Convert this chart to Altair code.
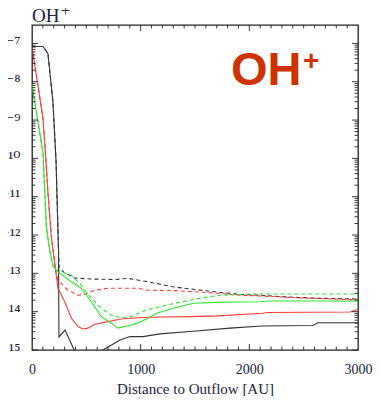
import altair as alt
import pandas as pd
import numpy as np

# ---------------- data (x in AU, y = log10 abundance) ----------------
x_black_solid = [0, 101, 147, 193, 221, 244, 248, 304, 396, 488, 598, 653, 810, 902, 1021, 1178, 1481, 1822, 2116, 2585, 2631, 3000]
y_black_solid = [-7.08, -7.08, -7.27, -8.54, -10.05, -12.40, -14.66, -14.48, -15.05, -15.21, -15.16, -15.0, -14.74, -14.65, -14.65, -14.58, -14.51, -14.43, -14.375, -14.36, -14.29, -14.29]

x_black_dashed = [0, 101, 147, 193, 221, 244, 250, 294, 396, 580, 764, 883, 1067, 1297, 1610, 1914, 2098, 2309, 2622, 3000]
y_black_dashed = [-7.08, -7.08, -7.27, -8.54, -10.05, -12.40, -12.87, -12.97, -13.125, -13.15, -13.16, -13.13, -13.22, -13.35, -13.46, -13.55, -13.57, -13.61, -13.65, -13.67]

x_red_solid = [0, 55, 101, 124, 147, 178, 209, 239, 301, 362, 423, 469, 515, 577, 699, 819, 975, 1178, 1454, 1702, 2125, 2162, 2926, 2990, 3000]
y_red_solid = [-7.10, -8.10, -8.96, -9.87, -10.91, -12.05, -12.73, -13.39, -13.74, -14.17, -14.39, -14.45, -14.43, -14.33, -14.26, -14.19, -14.16, -14.14, -14.13, -14.11, -14.04, -14.02, -14.01, -13.95, -13.93]

x_red_dashed = [0, 55, 101, 124, 147, 178, 209, 216, 239, 331, 423, 485, 577, 699, 853, 975, 1067, 1297, 1610, 1914, 2098, 2466, 3000]
y_red_dashed = [-7.10, -8.10, -8.96, -9.87, -10.91, -12.05, -12.73, -12.92, -13.18, -13.44, -13.57, -13.55, -13.44, -13.39, -13.39, -13.39, -13.44, -13.45, -13.50, -13.57, -13.59, -13.64, -13.69]

x_green_solid = [0, 25, 71, 101, 117, 132, 163, 193, 239, 362, 454, 546, 638, 730, 791, 914, 1006, 1147, 1300, 1484, 1760, 2098, 2190, 3000]
y_green_solid = [-8.05, -8.53, -9.32, -9.84, -10.83, -11.79, -12.40, -12.81, -12.96, -13.22, -13.39, -13.74, -14.13, -14.30, -14.43, -14.35, -14.26, -14.04, -13.91, -13.78, -13.75, -13.74, -13.72, -13.72]

x_green_dashed = [0, 25, 71, 101, 117, 132, 163, 193, 239, 362, 454, 546, 638, 730, 822, 914, 1006, 1086, 1331, 1546, 1730, 2006, 3000]
y_green_dashed = [-8.05, -8.53, -9.32, -9.84, -10.83, -11.79, -12.40, -12.81, -12.92, -13.05, -13.31, -13.65, -13.91, -14.09, -14.16, -14.13, -14.0, -13.93, -13.77, -13.65, -13.57, -13.54, -13.54]

x_tick_labels = [0, 1000, 2000, 3000]
y_decades = [-15, -14, -13, -12, -11, -10, -9, -8, -7]
y_tick_texts = ["10⁻¹⁵", "10⁻¹⁴", "10⁻¹³", "10⁻¹²", "10⁻¹¹", "10⁻¹⁰", "10⁻⁹", "10⁻⁸", "10⁻⁷"]

panel_title = ["OH", "+"]
big_label = ["OH", "+"]

X_DOMAIN = [0, 3000]
Y_DOMAIN = [-15, -6.52]
W, H = 326, 325

series = [
    ("black", "dashed", "#333333", x_black_dashed, y_black_dashed),
    ("red", "dashed", "#ff3b3b", x_red_dashed, y_red_dashed),
    ("green", "dashed", "#2ee62e", x_green_dashed, y_green_dashed),
    ("black", "solid", "#333333", x_black_solid, y_black_solid),
    ("red", "solid", "#ff3b3b", x_red_solid, y_red_solid),
    ("green", "solid", "#2ee62e", x_green_solid, y_green_solid),
]
rows = []
for name, style, col, xs_, ys_ in series:
    for i, (a, b) in enumerate(zip(xs_, ys_)):
        rows.append({"series": name + "_" + style, "style": style, "col": col, "i": i, "x": a, "y": b})
df = pd.DataFrame(rows)

xs = alt.Scale(domain=X_DOMAIN, nice=False, zero=False)
ys = alt.Scale(domain=Y_DOMAIN, nice=False, zero=False)

label_expr = " : ".join(
    f"round(datum.value) == {d} ? '{t}'" for d, t in zip(y_decades, y_tick_texts)
) + " : ''"

SERIF = "Liberation Serif, DejaVu Serif"
TXT = "#22223a"

x_axis = alt.Axis(values=x_tick_labels, format="d", labelFont=SERIF, labelFontSize=14, labelColor=TXT,
                  labelPadding=12, ticks=False, tickSize=0, domain=False, grid=False,
                  title="Distance to Outflow [AU]", titleFont=SERIF, titleFontSize=15,
                  titleFontWeight="normal", titleColor=TXT, titleY=43.5, titleBaseline="alphabetic",
                  labelFlush=False)
y_axis = alt.Axis(values=y_decades, labelExpr=label_expr, labelFont=SERIF, labelFontSize=18,
                  labelColor=TXT, labelPadding=12, ticks=False, tickSize=0, domain=False, grid=False,
                  title=None, labelBaseline="alphabetic", labelOffset=5, labelFlush=False)

XENC = dict(scale=xs, axis=x_axis, title="Distance to Outflow [AU]")
YENC = dict(scale=ys, axis=y_axis, title=None)

base = alt.Chart(df)
dashed = base.transform_filter(alt.datum.style == "dashed").mark_line(
    clip=True, strokeWidth=1.1, strokeDash=[4, 3]
).encode(
    x=alt.X("x:Q", **XENC),
    y=alt.Y("y:Q", **YENC),
    color=alt.Color("col:N", scale=None),
    detail="series:N",
    order="i:Q",
)
solid = base.transform_filter(alt.datum.style == "solid").mark_line(
    clip=True, strokeWidth=1.1
).encode(
    x=alt.X("x:Q", **XENC),
    y=alt.Y("y:Q", **YENC),
    color=alt.Color("col:N", scale=None),
    detail="series:N",
    order="i:Q",
)

# ---------- inward frame ticks ----------
y_major = [float(d) for d in y_decades]
y_minor = [float(np.log10(k) + n) for n in range(-15, -7) for k in range(2, 10)]
x_major = [1000.0, 2000.0]
x_minor = [float(v) for v in range(100, 3000, 100) if v % 1000 != 0]

ymaj_df = pd.DataFrame({"x": y_major})
ymin_df = pd.DataFrame({"x": y_minor})
xmaj_df = pd.DataFrame({"x": x_major})
xmin_df = pd.DataFrame({"x": x_minor})

TC = "#222222"


def yticks(d, length):
    d = d.rename(columns={"x": "y"})
    left = alt.Chart(d).mark_rule(color=TC, strokeWidth=0.9).encode(
        y=alt.Y("y:Q", **YENC), x=alt.value(0), x2=alt.value(length))
    right = alt.Chart(d).mark_rule(color=TC, strokeWidth=0.9).encode(
        y=alt.Y("y:Q", **YENC), x=alt.value(W), x2=alt.value(W - length))
    return [left, right]


def xticks(d, length):
    bottom = alt.Chart(d).mark_rule(color=TC, strokeWidth=0.9).encode(
        x=alt.X("x:Q", **XENC), y=alt.value(H), y2=alt.value(H - length))
    top = alt.Chart(d).mark_rule(color=TC, strokeWidth=0.9).encode(
        x=alt.X("x:Q", **XENC), y=alt.value(0), y2=alt.value(length))
    return [bottom, top]


tick_layers = yticks(ymaj_df, 6) + yticks(ymin_df, 3.5) + xticks(xmaj_df, 6) + xticks(xmin_df, 3.5)

# ---------- texts ----------
title_main = alt.Chart(pd.DataFrame({"t": [panel_title[0]]})).mark_text(
    font=SERIF, fontSize=19, color=TXT, align="left", baseline="alphabetic"
).encode(text="t:N", x=alt.value(0), y=alt.value(-3))
title_sup = alt.Chart(pd.DataFrame({"t": [panel_title[1]]})).mark_text(
    font=SERIF, fontSize=16, color=TXT, align="left", baseline="alphabetic"
).encode(text="t:N", x=alt.value(29), y=alt.value(-9))

big_main = alt.Chart(pd.DataFrame({"t": [big_label[0]]})).mark_text(
    font="Liberation Sans", fontSize=47, fontWeight="bold", color="#cc3300", align="left", baseline="alphabetic"
).encode(text="t:N", x=alt.value(199), y=alt.value(60))
big_sup = alt.Chart(pd.DataFrame({"t": [big_label[1]]})).mark_text(
    font="Liberation Sans", fontSize=28, fontWeight="bold", color="#cc3300", align="left", baseline="alphabetic"
).encode(text="t:N", x=alt.value(271), y=alt.value(45))

chart = alt.layer(
    dashed, solid, *tick_layers, title_main, title_sup, big_main, big_sup
).properties(
    width=W, height=H,
    padding={"left": 24, "top": 17, "right": 15, "bottom": 46},
    autosize=alt.AutoSizeParams(type="none"),
).configure_view(stroke="#222222", strokeWidth=1.3)

chart.save("out.html", embed_options={"renderer": "svg", "actions": False})
